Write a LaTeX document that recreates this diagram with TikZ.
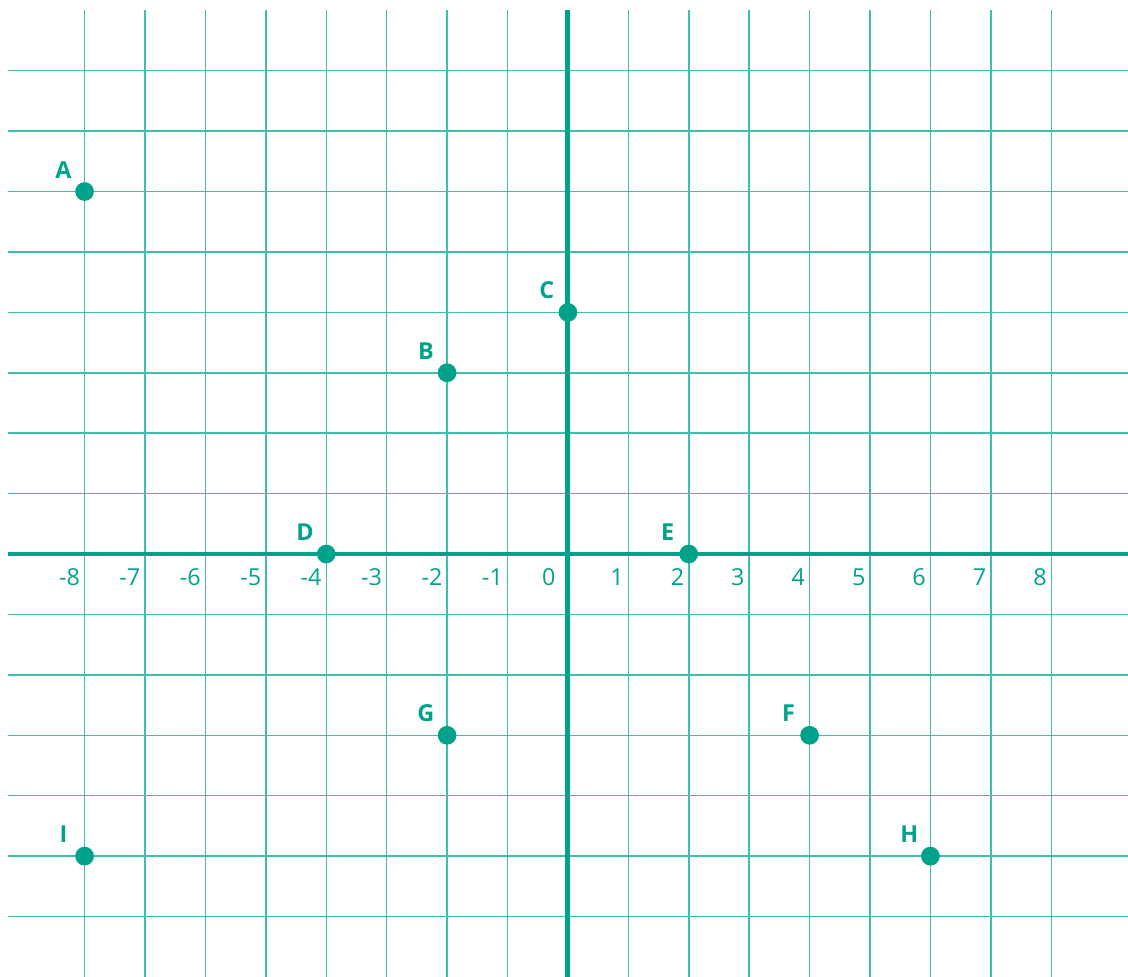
\documentclass[tikz,border=0pt]{standalone}
\usepackage{fontspec}
\setmainfont{Open Sans}
\usetikzlibrary{positioning}
\definecolor{axisteal}{HTML}{00A38A}
\definecolor{gridteal}{HTML}{3DBFAA}

\begin{document}
\begin{tikzpicture}[x=1cm, y=1cm,
  gridline/.style={gridteal, line width=0.7pt},
  axisline/.style={axisteal, line width=2.3pt},
  dot/.style={circle, fill=axisteal, inner sep=0pt, minimum size=0.31cm},
  ptlabel/.style={font=\bfseries\fontsize{11}{13}\selectfont, text=axisteal, inner sep=0pt},
  ticklabel/.style={font=\fontsize{11}{13}\selectfont, text=axisteal, inner sep=0pt, anchor=east}]
  \useasboundingbox (-9.40,-6.99) rectangle (9.27,9.17);

  %% Grid
  \foreach \x in {-8,...,8}
    \draw[gridline] (\x,-7) -- (\x,9);
  \foreach \y in {-6,...,8}
    \draw[gridline] (-9.27,\y) -- (9.27,\y);

  %% Axes
  \coordinate (xl) at (-9.27,0);
  \coordinate (xr) at (9.27,0);
  \coordinate (yb) at (0,-7);
  \coordinate (yt) at (0,9);
  \draw[axisline] (xl) -- (xr);
  \draw[axisline] (yb) -- (yt);

  %% Tick labels
  \foreach \x in {-8,...,-1,1,2,...,8}
    \node[ticklabel] (tick\x) at (\x-0.07,-0.38) {\x};
  \node[ticklabel] (tick0) at (-0.2,-0.38) {0};

  %% Points
  \foreach \name/\px/\py in {A/-8/6, B/-2/3, C/0/4, D/-4/0, E/2/0,
                             F/4/-3, G/-2/-3, H/6/-5, I/-8/-5} {
    \node[dot] (\name) at (\px,\py) {};
    \node[ptlabel] (lab\name) at ([shift={(-0.35,0.36)}]\name.center) {\name};
  }
\end{tikzpicture}
\end{document}
